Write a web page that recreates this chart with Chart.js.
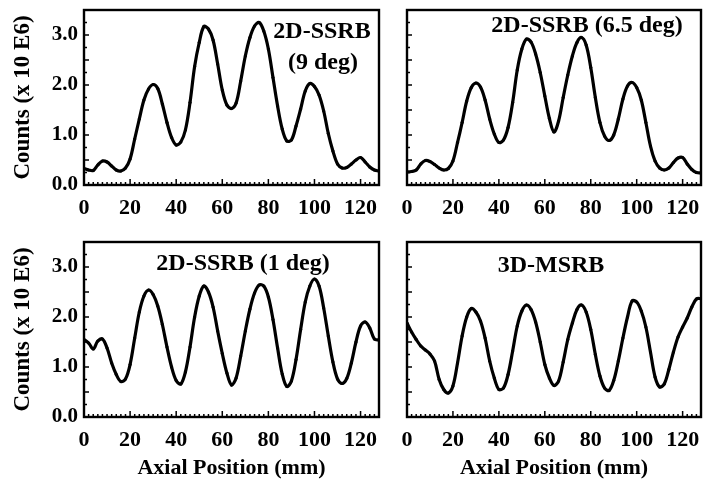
<!DOCTYPE html>
<html>
<head>
<meta charset="utf-8">
<script src="https://cdn.jsdelivr.net/npm/chart.js@4.4.1/dist/chart.umd.min.js"></script>
<style>
  html, body { margin: 0; padding: 0; background: #fff; width: 707px; height: 490px; overflow: hidden; }
  canvas { position: absolute; }
  .ptitle { position: absolute; width: 300px; text-align: center; font-family: "Liberation Serif", serif; font-weight: bold; font-size: 24px; line-height: 24px; color: #000; white-space: nowrap; }
</style>
</head>
<body>
<canvas id="c1" width="386" height="232" style="left:0px;top:0px"></canvas>
<canvas id="c2" width="317" height="232" style="left:390px;top:0px"></canvas>
<canvas id="c3" width="386" height="258" style="left:0px;top:232px"></canvas>
<canvas id="c4" width="317" height="258" style="left:390px;top:232px"></canvas>
<div class="ptitle" style="left:172px;top:18px">2D-SSRB</div>
<div class="ptitle" style="left:173px;top:49px">(9 deg)</div>
<div class="ptitle" style="left:437px;top:12px">2D-SSRB (6.5 deg)</div>
<div class="ptitle" style="left:93px;top:250px">2D-SSRB (1 deg)</div>
<div class="ptitle" style="left:401px;top:252px">3D-MSRB</div>
<script>
// ---- data ----
const axialPositions = [0,2,4,6,8,10,12,14,16,18,20,22,24,26,28,30,32,34,36,38,40,42,44,46,48,50,52,54,56,58,60,62,64,66,68,70,72,74,76,78,80,82,84,86,88,90,92,94,96,98,100,102,104,106,108,110,112,114,116,118,120,122,124,126,128];

const ssrb9deg = [0.33,0.30,0.29,0.40,0.48,0.46,0.38,0.30,0.28,0.34,0.52,0.92,1.32,1.70,1.92,2.01,1.93,1.62,1.25,0.95,0.80,0.86,1.10,1.65,2.37,2.85,3.17,3.12,2.90,2.42,1.90,1.60,1.53,1.64,2.08,2.58,2.95,3.18,3.25,3.08,2.72,2.15,1.58,1.12,0.88,0.90,1.18,1.52,1.88,2.03,1.97,1.80,1.48,1.03,0.68,0.42,0.34,0.35,0.42,0.50,0.55,0.46,0.36,0.30,0.28];

const ssrb65deg = [0.26,0.27,0.30,0.42,0.49,0.47,0.41,0.34,0.30,0.33,0.48,0.85,1.25,1.68,1.95,2.04,1.96,1.70,1.32,1.02,0.85,0.90,1.15,1.65,2.30,2.72,2.92,2.86,2.62,2.25,1.78,1.33,1.06,1.28,1.75,2.20,2.58,2.85,2.95,2.80,2.35,1.75,1.25,0.98,0.89,1.00,1.32,1.72,1.98,2.05,1.95,1.70,1.25,0.78,0.48,0.34,0.30,0.34,0.45,0.54,0.55,0.42,0.31,0.25,0.24];

const ssrb1deg = [1.55,1.48,1.36,1.52,1.56,1.38,1.08,0.85,0.71,0.76,1.05,1.58,2.10,2.42,2.54,2.45,2.22,1.85,1.40,1.00,0.73,0.66,0.90,1.40,2.00,2.42,2.62,2.50,2.20,1.72,1.27,0.88,0.64,0.78,1.22,1.72,2.16,2.48,2.64,2.62,2.40,1.95,1.38,0.86,0.61,0.72,1.15,1.75,2.30,2.62,2.76,2.62,2.18,1.62,1.10,0.76,0.67,0.77,1.08,1.50,1.82,1.90,1.78,1.56,1.54];

const msrb3d = [1.88,1.70,1.55,1.42,1.34,1.26,1.12,0.75,0.55,0.48,0.62,1.08,1.62,2.00,2.17,2.10,1.92,1.58,1.12,0.78,0.55,0.58,0.85,1.32,1.82,2.12,2.24,2.15,1.90,1.50,1.05,0.78,0.63,0.72,1.10,1.55,1.88,2.15,2.24,2.10,1.75,1.25,0.82,0.58,0.53,0.73,1.12,1.58,2.00,2.32,2.30,2.12,1.80,1.30,0.80,0.60,0.66,0.95,1.30,1.60,1.80,1.98,2.20,2.36,2.37];

const xTickValues = [0,20,40,60,80,100,120];
const yTickValues = [0,1,2,3];
const xRange = [0,128];
const yRange = [0,3.5];
const yAxisTitle = 'Counts (x 10 E6)';
const xAxisTitle = 'Axial Position (mm)';

// ---- drawing ----
const SERIF = '"Liberation Serif", "DejaVu Serif", serif';

const framePlugin = {
  id: 'frameTicks',
  afterDatasetsDraw(chart) {
    const {ctx, chartArea: a} = chart;
    const xs = chart.scales.x, ys = chart.scales.y;
    ctx.save();
    ctx.strokeStyle = '#000';
    ctx.lineWidth = 1.5;
    ctx.beginPath();
    for (let v = xRange[0]; v <= xRange[1]; v += 2) {
      const px = xs.getPixelForValue(v);
      const len = (v % 20 === 0) ? 6 : 3;
      ctx.moveTo(px, a.bottom);
      ctx.lineTo(px, a.bottom - len);
    }
    for (let v = yRange[0]; v <= yRange[1] + 1e-9; v += 0.25) {
      const py = ys.getPixelForValue(v);
      const len = (Math.abs(v * 2 - Math.round(v * 2)) < 1e-6) ? 5 : 3;
      ctx.moveTo(a.left, py);
      ctx.lineTo(a.left + len, py);
    }
    ctx.stroke();
    ctx.lineWidth = 2.4;
    ctx.strokeRect(a.left, a.top, a.right - a.left, a.bottom - a.top);
    ctx.restore();
  }
};

function makeChart(id, values, opts) {
  const pts = axialPositions.map((x, i) => ({x: x, y: values[i]}));
  new Chart(document.getElementById(id), {
    type: 'line',
    data: {
      datasets: [{
        data: pts,
        borderColor: '#000',
        backgroundColor: '#000',
        borderWidth: 3.2,
        pointRadius: 1.6,
        pointBorderWidth: 0,
        tension: 0.35,
        fill: false
      }]
    },
    options: {
      responsive: false,
      animation: false,
      events: [],
      layout: { padding: { top: 10, right: opts.padRight, bottom: 0, left: 0 } },
      plugins: { legend: { display: false }, tooltip: { enabled: false } },
      scales: {
        x: {
          type: 'linear',
          min: xRange[0], max: xRange[1],
          afterBuildTicks: (s) => { s.ticks = xTickValues.map(v => ({value: v})); },
          afterFit: (s) => { s.height = opts.xHeight; s.paddingLeft = 0; s.paddingRight = 0; },
          grid: { display: false, drawTicks: false },
          border: { display: false },
          ticks: {
            padding: 10,
            maxRotation: 0,
            autoSkip: false,
            color: '#000',
            font: { family: SERIF, weight: 'bold', size: 22 },
            callback: (v) => String(v)
          },
          title: {
            display: opts.xTitle,
            text: xAxisTitle,
            color: '#000',
            font: { family: SERIF, weight: 'bold', size: 22 },
            padding: { top: 0, bottom: 8 }
          }
        },
        y: {
          type: 'linear',
          min: yRange[0], max: yRange[1],
          afterBuildTicks: (s) => { s.ticks = yTickValues.map(v => ({value: v})); },
          afterFit: (s) => { s.width = opts.yWidth; s.paddingTop = 0; s.paddingBottom = 0; },
          grid: { display: false, drawTicks: false },
          border: { display: false },
          ticks: {
            display: opts.yLabels,
            padding: 6,
            color: '#000',
            font: { family: SERIF, weight: 'bold', size: 21 },
            callback: (v) => Number(v).toFixed(1)
          },
          title: {
            display: opts.yLabels,
            text: yAxisTitle,
            color: '#000',
            font: { family: SERIF, weight: 'bold', size: 23 },
            padding: { top: 9, bottom: 0 }
          }
        }
      }
    },
    plugins: [framePlugin]
  });
}

makeChart('c1', ssrb9deg,  { padRight: 7, xHeight: 47, yWidth: 84, yLabels: true,  xTitle: false });
makeChart('c2', ssrb65deg, { padRight: 6, xHeight: 47, yWidth: 17, yLabels: false, xTitle: false });
makeChart('c3', ssrb1deg,  { padRight: 7, xHeight: 73, yWidth: 84, yLabels: true,  xTitle: true });
makeChart('c4', msrb3d,    { padRight: 6, xHeight: 73, yWidth: 17, yLabels: false, xTitle: true });
</script>
</body>
</html>
